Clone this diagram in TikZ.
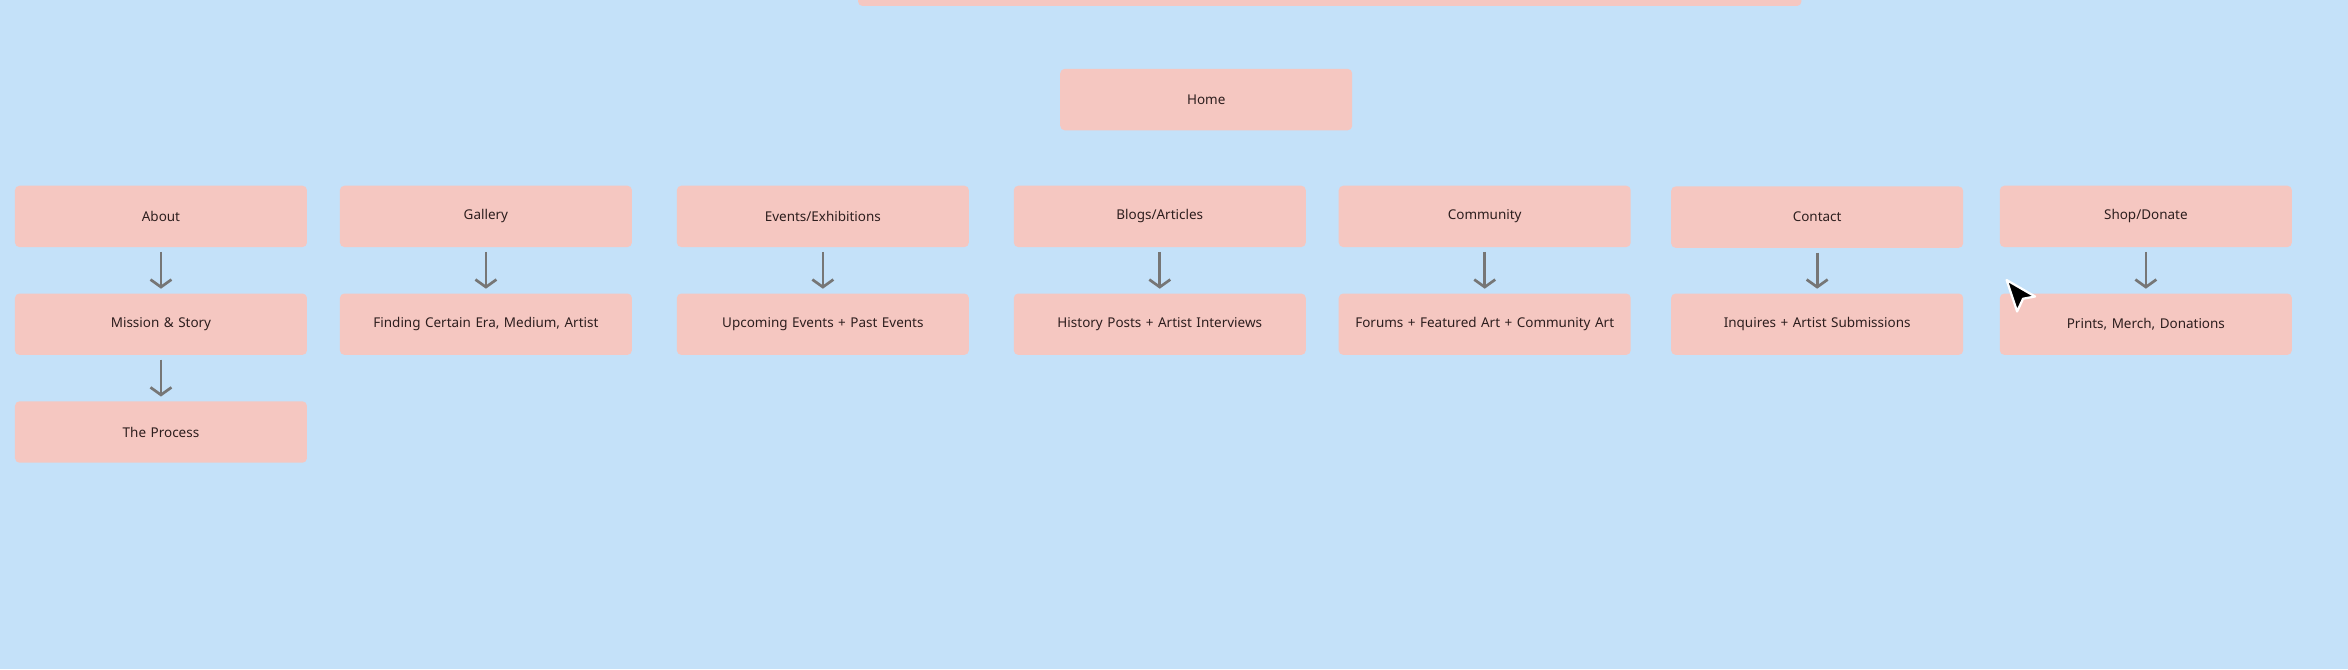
\documentclass[tikz,border=0pt]{standalone}
\usepackage{fontspec}
\setmainfont{Noto Sans}
\usetikzlibrary{arrows.meta}
\definecolor{bgblue}{RGB}{196,225,249}
\definecolor{boxpink}{RGB}{245,199,193}
\definecolor{txtdark}{RGB}{45,30,30}
\definecolor{arrgray}{RGB}{118,118,118}
\tikzset{
  page/.style={box/.style={}},
  box/.style={fill=boxpink, rounded corners=3pt, minimum width=195pt, minimum height=41pt,
    text width=185pt, align=center, font=\fontsize{9}{11}\selectfont\bfseries, text=txtdark},
  down/.style={draw=arrgray, line width=1.8pt, -{Straight Barb[length=5pt,width=14pt]}}
}
\begin{document}
\begin{tikzpicture}[x=1pt,y=1pt]
    % Background and frame
    \fill[bgblue] (0,0) rectangle (1568,-447);
    \useasboundingbox (0,0) rectangle (1568,-447);
    \fill[boxpink, rounded corners=3pt] (573,6) rectangle (1203,-4);

    % Home
    \node[box] (home) at (805.5,-66.5) {Home};

    % Top level pages
    \node[box] (about)     at (107.5,-144.5) {About};
    \node[box] (gallery)   at (324.5,-144.5) {Gallery};
    \node[box] (events)    at (549.5,-144.5) {Events/Exhibitions};
    \node[box] (blogs)     at (774.5,-144.5) {Blogs/Articles};
    \node[box] (community) at (991.5,-144.5) {Community};
    \node[box] (contact)   at (1213.5,-145) {Contact};
    \node[box] (shop)      at (1433,-144.5) {Shop/Donate};

    % Sub pages
    \node[box] (mission)   at (107.5,-216.5) {Mission \& Story};
    \node[box] (process)   at (107.5,-288.5) {The Process};
    \node[box] (finding)   at (324.5,-216.5) {Finding Certain Era, Medium, Artist};
    \node[box] (upcoming)  at (549.5,-216.5) {Upcoming Events + Past Events};
    \node[box] (history)   at (774.5,-216.5) {History Posts + Artist Interviews};
    \node[box] (forums)    at (991.5,-216.5) {Forums + Featured Art + Community Art};
    \node[box] (inquires)  at (1213.5,-216.5) {Inquires + Artist Submissions};
    \node[box] (prints)    at (1433,-216.5) {Prints, Merch, Donations};

    % Arrows
    \foreach \a/\b in {about/mission, mission/process, gallery/finding, events/upcoming,
                       blogs/history, community/forums, contact/inquires, shop/prints}
        \draw[down] ([yshift=-3pt]\a.south) -- ([yshift=3pt]\b.north);

    % Cursor
    \draw[white, line width=1.5pt, fill=black, line join=round]
        (1340,-187) -- (1359,-198) -- (1351,-199.5) -- (1347,-208) -- cycle;
\end{tikzpicture}
\end{document}
